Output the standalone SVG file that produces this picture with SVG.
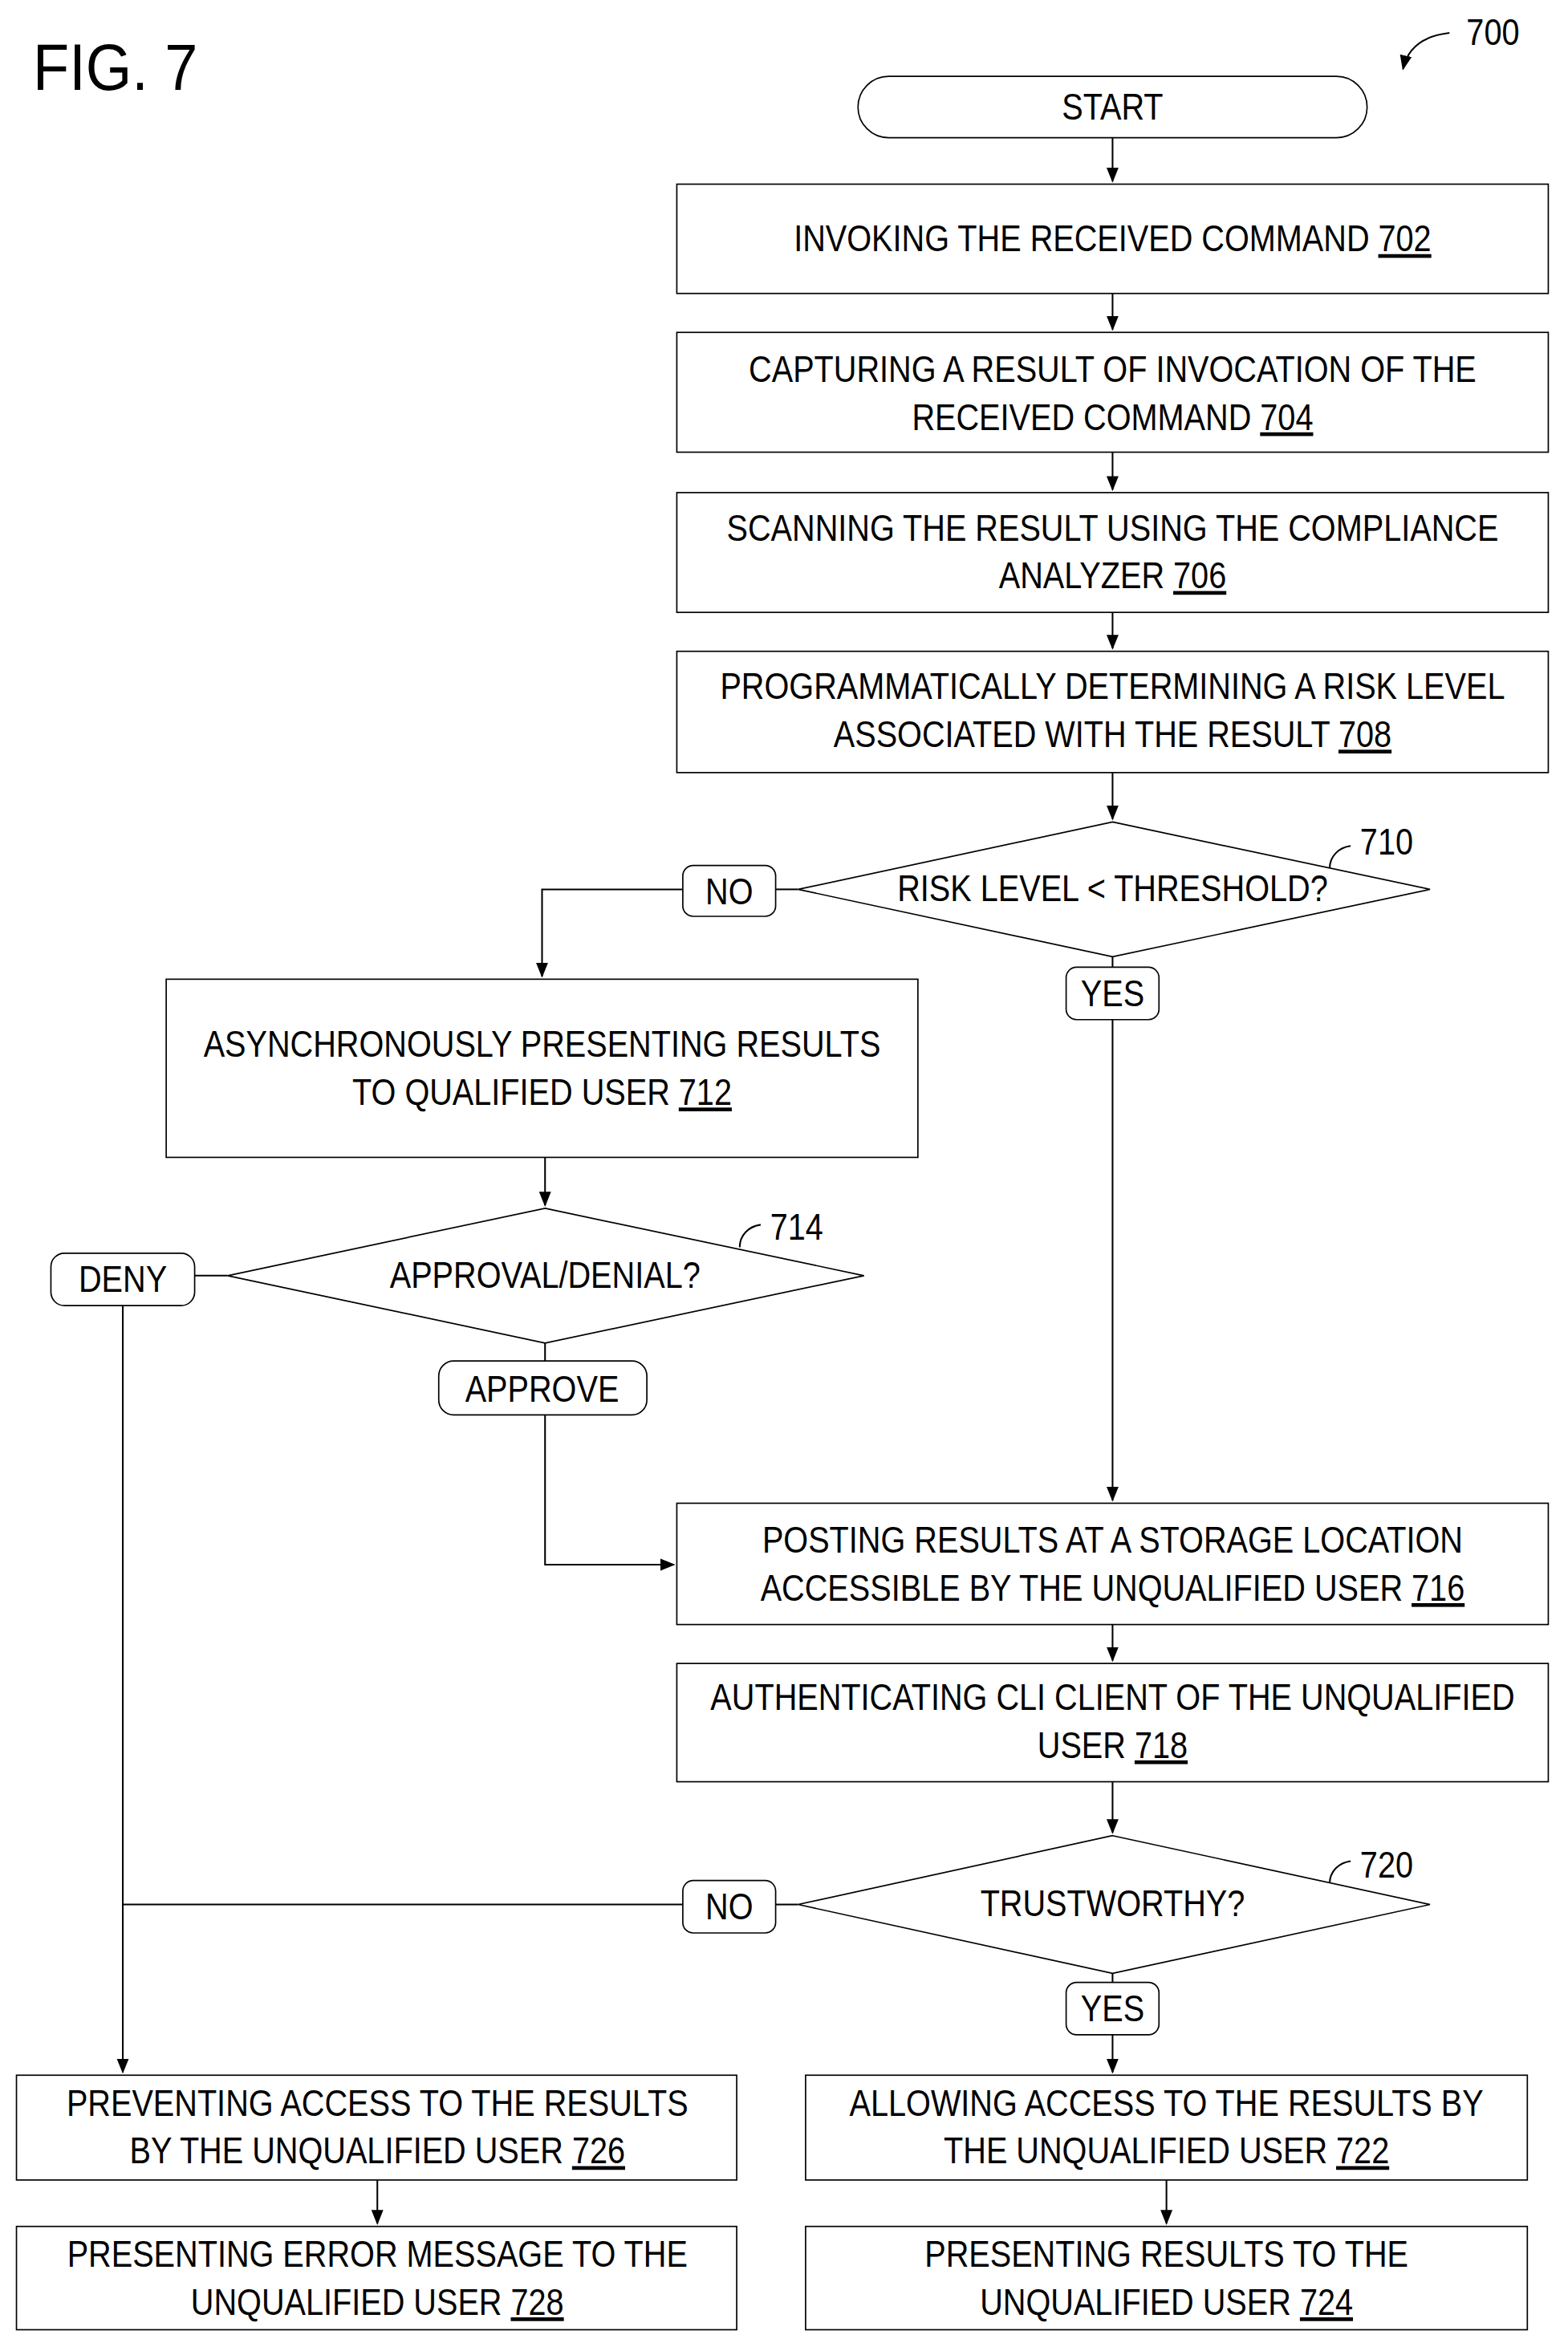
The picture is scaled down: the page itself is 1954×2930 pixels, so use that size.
<svg xmlns="http://www.w3.org/2000/svg" width="1954" height="2930" viewBox="0 0 1954 2930">
<style>
.b{fill:#fff;stroke:#000;stroke-width:0.9}
.t{font-family:"Liberation Sans",Arial,sans-serif;font-size:25px;fill:#000;text-anchor:middle}
.l{fill:none;stroke:#000;stroke-width:1.1}
.u{text-decoration:underline}
</style>
<defs><marker id="a" markerWidth="10" markerHeight="10" refX="9" refY="5" orient="auto" markerUnits="userSpaceOnUse"><path d="M0,1 L10,5 L0,9 Z" fill="#000"/></marker></defs>
<rect width="1954" height="2930" fill="#fff"/>
<g transform="scale(1.866)">
<text x="22" y="60" style="font-family:'Liberation Sans',Arial,sans-serif;font-size:44px" transform="translate(22,0) scale(0.9,1) translate(-22,0)">FIG. 7</text>
<g id="ref700"><text class="t" x="0" y="30" transform="translate(997,0) scale(0.85,1)">700</text><path class="l" d="M968,22 C950,24 940,32 937,46" marker-end="url(#a)"/></g>
<g id="connectors">
<path class="l" d="M743,92 V121" marker-end="url(#a)"/>
<path class="l" d="M743,196 V220" marker-end="url(#a)"/>
<path class="l" d="M743,302 V327" marker-end="url(#a)"/>
<path class="l" d="M743,409 V433" marker-end="url(#a)"/>
<path class="l" d="M743,516 V547" marker-end="url(#a)"/>
<path class="l" d="M533,594 H518"/>
<path class="l" d="M456,594 H362 V652" marker-end="url(#a)"/>
<path class="l" d="M743,639 V646"/>
<path class="l" d="M743,681 V1002" marker-end="url(#a)"/>
<path class="l" d="M364,773 V805" marker-end="url(#a)"/>
<path class="l" d="M152,852 H130"/>
<path class="l" d="M364,897 V909"/>
<path class="l" d="M364,945 V1045 H450" marker-end="url(#a)"/>
<path class="l" d="M82,872 V1384" marker-end="url(#a)"/>
<path class="l" d="M743,1085 V1109" marker-end="url(#a)"/>
<path class="l" d="M743,1190 V1224" marker-end="url(#a)"/>
<path class="l" d="M533,1272 H518"/>
<path class="l" d="M456,1272 H82"/>
<path class="l" d="M743,1318 V1324"/>
<path class="l" d="M743,1359 V1384" marker-end="url(#a)"/>
<path class="l" d="M779,1456 V1485" marker-end="url(#a)"/>
<path class="l" d="M252,1456 V1485" marker-end="url(#a)"/>
<path class="l" d="M888,580 C888,572 894,566 902,565"/>
<path class="l" d="M494,833 C494,825 500,819 508,818"/>
<path class="l" d="M888,1258 C888,1250 894,1244 902,1243"/>
</g>
<text class="t" x="0" y="571" transform="translate(926,0) scale(0.85,1)">710</text>
<text class="t" x="0" y="828" transform="translate(532,0) scale(0.85,1)">714</text>
<text class="t" x="0" y="1254" transform="translate(926,0) scale(0.85,1)">720</text>
<g id="start"><rect class="b" x="573" y="51" width="340" height="41" rx="20.5"/><text class="t" x="0" y="80" transform="translate(743,0) scale(0.85,1)">START</text></g>
<g id="n702"><rect class="b" x="452" y="123" width="582" height="73"/><text class="t" x="0" y="168" transform="translate(743,0) scale(0.85,1)">INVOKING THE RECEIVED COMMAND <tspan class="u">702</tspan></text></g>
<g id="n704"><rect class="b" x="452" y="222" width="582" height="80"/><text class="t" transform="translate(743,0) scale(0.85,1)"><tspan x="0" y="255">CAPTURING A RESULT OF INVOCATION OF THE</tspan><tspan x="0" y="287">RECEIVED COMMAND <tspan class="u">704</tspan></tspan></text></g>
<g id="n706"><rect class="b" x="452" y="329" width="582" height="80"/><text class="t" transform="translate(743,0) scale(0.85,1)"><tspan x="0" y="361">SCANNING THE RESULT USING THE COMPLIANCE</tspan><tspan x="0" y="393">ANALYZER <tspan class="u">706</tspan></tspan></text></g>
<g id="n708"><rect class="b" x="452" y="435" width="582" height="81"/><text class="t" transform="translate(743,0) scale(0.85,1)"><tspan x="0" y="467">PROGRAMMATICALLY DETERMINING A RISK LEVEL</tspan><tspan x="0" y="499">ASSOCIATED WITH THE RESULT <tspan class="u">708</tspan></tspan></text></g>
<g id="d710"><path class="b" d="M743,549 L955,594 L743,639 L533,594 Z"/><text class="t" x="0" y="602" transform="translate(743,0) scale(0.85,1)">RISK LEVEL &lt; THRESHOLD?</text></g>
<g id="no1"><rect class="b" x="456" y="578" width="62" height="34" rx="7"/><text class="t" x="0" y="604" transform="translate(487,0) scale(0.85,1)">NO</text></g>
<g id="yes1"><rect class="b" x="712" y="646" width="62" height="35" rx="7"/><text class="t" x="0" y="672" transform="translate(743,0) scale(0.85,1)">YES</text></g>
<g id="n712"><rect class="b" x="111" y="654" width="502" height="119"/><text class="t" transform="translate(362,0) scale(0.85,1)"><tspan x="0" y="706">ASYNCHRONOUSLY PRESENTING RESULTS</tspan><tspan x="0" y="738">TO QUALIFIED USER <tspan class="u">712</tspan></tspan></text></g>
<g id="d714"><path class="b" d="M364,807 L577,852 L364,897 L152,852 Z"/><text class="t" x="0" y="860" transform="translate(364,0) scale(0.85,1)">APPROVAL/DENIAL?</text></g>
<g id="deny"><rect class="b" x="34" y="837" width="96" height="35" rx="9"/><text class="t" x="0" y="863" transform="translate(82,0) scale(0.85,1)">DENY</text></g>
<g id="approve"><rect class="b" x="293" y="909" width="139" height="36" rx="10"/><text class="t" x="0" y="936" transform="translate(362,0) scale(0.85,1)">APPROVE</text></g>
<g id="n716"><rect class="b" x="452" y="1004" width="582" height="81"/><text class="t" transform="translate(743,0) scale(0.85,1)"><tspan x="0" y="1037">POSTING RESULTS AT A STORAGE LOCATION</tspan><tspan x="0" y="1069">ACCESSIBLE BY THE UNQUALIFIED USER <tspan class="u">716</tspan></tspan></text></g>
<g id="n718"><rect class="b" x="452" y="1111" width="582" height="79"/><text class="t" transform="translate(743,0) scale(0.85,1)"><tspan x="0" y="1142">AUTHENTICATING CLI CLIENT OF THE UNQUALIFIED</tspan><tspan x="0" y="1174">USER <tspan class="u">718</tspan></tspan></text></g>
<g id="d720"><path class="b" d="M743,1226 L955,1272 L743,1318 L533,1272 Z"/><text class="t" x="0" y="1280" transform="translate(743,0) scale(0.85,1)">TRUSTWORTHY?</text></g>
<g id="no2"><rect class="b" x="456" y="1256" width="62" height="35" rx="7"/><text class="t" x="0" y="1282" transform="translate(487,0) scale(0.85,1)">NO</text></g>
<g id="yes2"><rect class="b" x="712" y="1324" width="62" height="35" rx="7"/><text class="t" x="0" y="1350" transform="translate(743,0) scale(0.85,1)">YES</text></g>
<g id="n722"><rect class="b" x="538" y="1386" width="482" height="70"/><text class="t" transform="translate(779,0) scale(0.85,1)"><tspan x="0" y="1413">ALLOWING ACCESS TO THE RESULTS BY</tspan><tspan x="0" y="1445">THE UNQUALIFIED USER <tspan class="u">722</tspan></tspan></text></g>
<g id="n724"><rect class="b" x="538" y="1487" width="482" height="69"/><text class="t" transform="translate(779,0) scale(0.85,1)"><tspan x="0" y="1514">PRESENTING RESULTS TO THE</tspan><tspan x="0" y="1546">UNQUALIFIED USER <tspan class="u">724</tspan></tspan></text></g>
<g id="n726"><rect class="b" x="11" y="1386" width="481" height="70"/><text class="t" transform="translate(252,0) scale(0.85,1)"><tspan x="0" y="1413">PREVENTING ACCESS TO THE RESULTS</tspan><tspan x="0" y="1445">BY THE UNQUALIFIED USER <tspan class="u">726</tspan></tspan></text></g>
<g id="n728"><rect class="b" x="11" y="1487" width="481" height="69"/><text class="t" transform="translate(252,0) scale(0.85,1)"><tspan x="0" y="1514">PRESENTING ERROR MESSAGE TO THE</tspan><tspan x="0" y="1546">UNQUALIFIED USER <tspan class="u">728</tspan></tspan></text></g>
</g>
</svg>
